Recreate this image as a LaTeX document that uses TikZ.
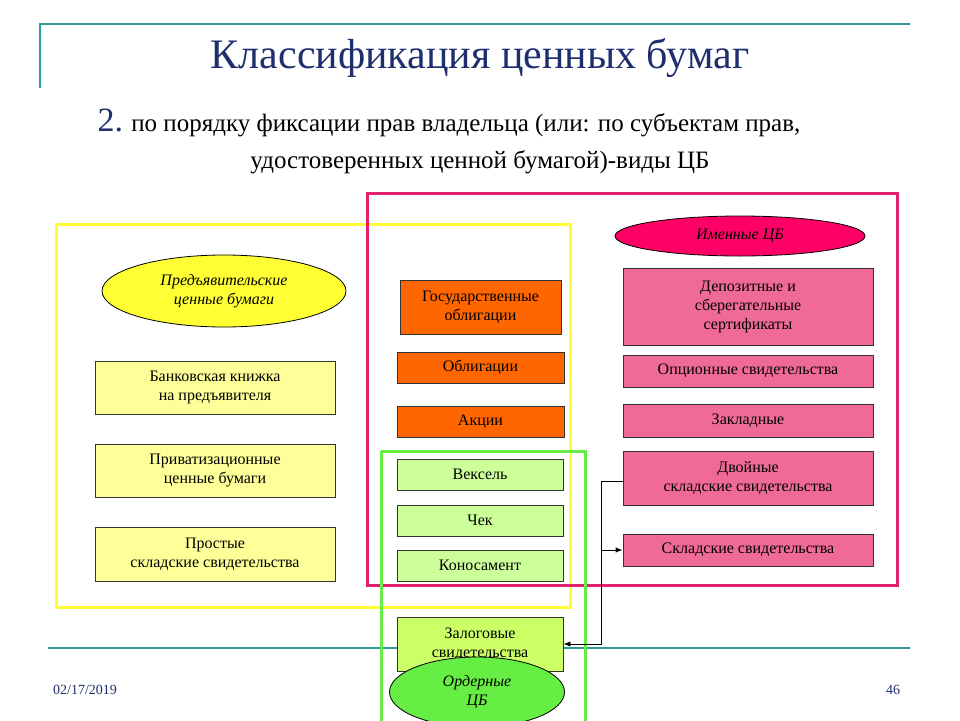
\documentclass[tikz,border=0pt]{standalone}
\usepackage{fontspec}
\setmainfont{Liberation Serif}
\usetikzlibrary{shapes.geometric,arrows.meta}
\definecolor{teal1}{HTML}{2E9A9A}
\definecolor{navy}{HTML}{1F2F6E}
\definecolor{ylw}{HTML}{FFFF33}
\definecolor{pinkln}{HTML}{E0226E}
\definecolor{grn}{HTML}{66EE44}
\definecolor{lyel}{HTML}{FFFF99}
\definecolor{orng}{HTML}{FF6600}
\definecolor{lgrn}{HTML}{CCFF99}
\definecolor{lgrn2}{HTML}{CCFF66}
\definecolor{pinkbox}{HTML}{F06A96}
\definecolor{mag}{HTML}{FF0066}
\tikzset{
 box/.style={draw=black!80,line width=0.8pt,align=center,font=\fontsize{16}{19}\selectfont,inner sep=0pt},
 ell/.style={ellipse,draw=black,line width=0.8pt,align=center,font=\itshape\fontsize{16}{19}\selectfont,inner sep=0pt},
 frame/.style={line width=3pt},
 conn/.style={draw=black,line width=0.8pt}
}
\begin{document}
\begin{tikzpicture}[x=1pt,y=-1pt]
\useasboundingbox (0,0) rectangle (960,720);
\fill[white] (0,0) rectangle (960,720);
\draw[teal1,line width=2pt] (40,88) -- (40,24) -- (910,24);
\draw[teal1,line width=2pt] (48,648) -- (910,648);
\node[text=navy,font=\fontsize{42}{48}\selectfont] (title) at (480,58) {Классификация ценных бумаг};
\node[anchor=west,font=\fontsize{25}{30}\selectfont] (sub1) at (94,123) {{\color{navy}\fontsize{34}{38}\selectfont 2.} по порядку фиксации прав владельца (или: по субъектам прав,};
\node[font=\fontsize{25}{30}\selectfont] (sub2) at (480,162) {удостоверенных ценной бумагой)-виды ЦБ};
\node[text=navy,font=\fontsize{14}{16}\selectfont] (date) at (85,690) {02/17/2019};
\node[text=navy,font=\fontsize{14}{16}\selectfont] (num) at (893,690) {46};
% frames
\draw[frame,ylw] (56,224) rectangle (570,607);
\draw[frame,pinkln] (367,193) rectangle (897,585);
\draw[frame,grn] (381,451) -- (381,722) (585,722) -- (585,451) -- (381,451);
% left
\node[ell,fill=ylw,minimum width=244,minimum height=72] (e1) at (224,291) {Предъявительские\\ценные бумаги};
\node[box,fill=lyel,minimum width=240,minimum height=53] (b1) at (215,387.5) {Банковская книжка\\на предъявителя};
\node[box,fill=lyel,minimum width=240,minimum height=53] (b2) at (215,470.5) {Приватизационные\\ценные бумаги};
\node[box,fill=lyel,minimum width=240,minimum height=54] (b3) at (215,554) {Простые\\складские свидетельства};
% middle
\node[box,fill=orng,minimum width=161,minimum height=54] (m1) at (480.5,307) {Государственные\\облигации};
\node[box,fill=orng,minimum width=167,minimum height=31] (m2) at (480.5,367.5) {Облигации};
\node[box,fill=orng,minimum width=167,minimum height=31] (m3) at (480.5,421.5) {Акции};
\node[box,fill=lgrn,minimum width=166,minimum height=31] (g1) at (480,474.5) {Вексель};
\node[box,fill=lgrn,minimum width=166,minimum height=31] (g2) at (480,520.5) {Чек};
\node[box,fill=lgrn,minimum width=166,minimum height=31] (g3) at (480,565.5) {Коносамент};
\node[box,fill=lgrn2,minimum width=166,minimum height=54] (g4) at (480,644) {Залоговые\\свидетельства};
\node[ell,fill=grn,minimum width=175,minimum height=70] (e2) at (477,692) {Ордерные\\ЦБ};
% right
\node[ell,fill=mag,minimum width=250,minimum height=40] (e3) at (740,236) {Именные ЦБ};
\node[box,fill=pinkbox,minimum width=250,minimum height=77] (p1) at (748,306.5) {Депозитные и\\сберегательные\\сертификаты};
\node[box,fill=pinkbox,minimum width=250,minimum height=32] (p2) at (748,371) {Опционные свидетельства};
\node[box,fill=pinkbox,minimum width=250,minimum height=33] (p3) at (748,420.5) {Закладные};
\node[box,fill=pinkbox,minimum width=250,minimum height=54] (p4) at (748,478) {Двойные\\складские свидетельства};
\node[box,fill=pinkbox,minimum width=250,minimum height=32] (p5) at (748,550) {Складские свидетельства};
\coordinate (j) at (601,481);
\draw[conn,-{Latex[length=7pt]}] (p4.west |- j) -- (j) |- (g4.east);
\draw[conn,-{Latex[length=7pt]}] (j |- p5.west) -- (p5.west);
\end{tikzpicture}
\end{document}
